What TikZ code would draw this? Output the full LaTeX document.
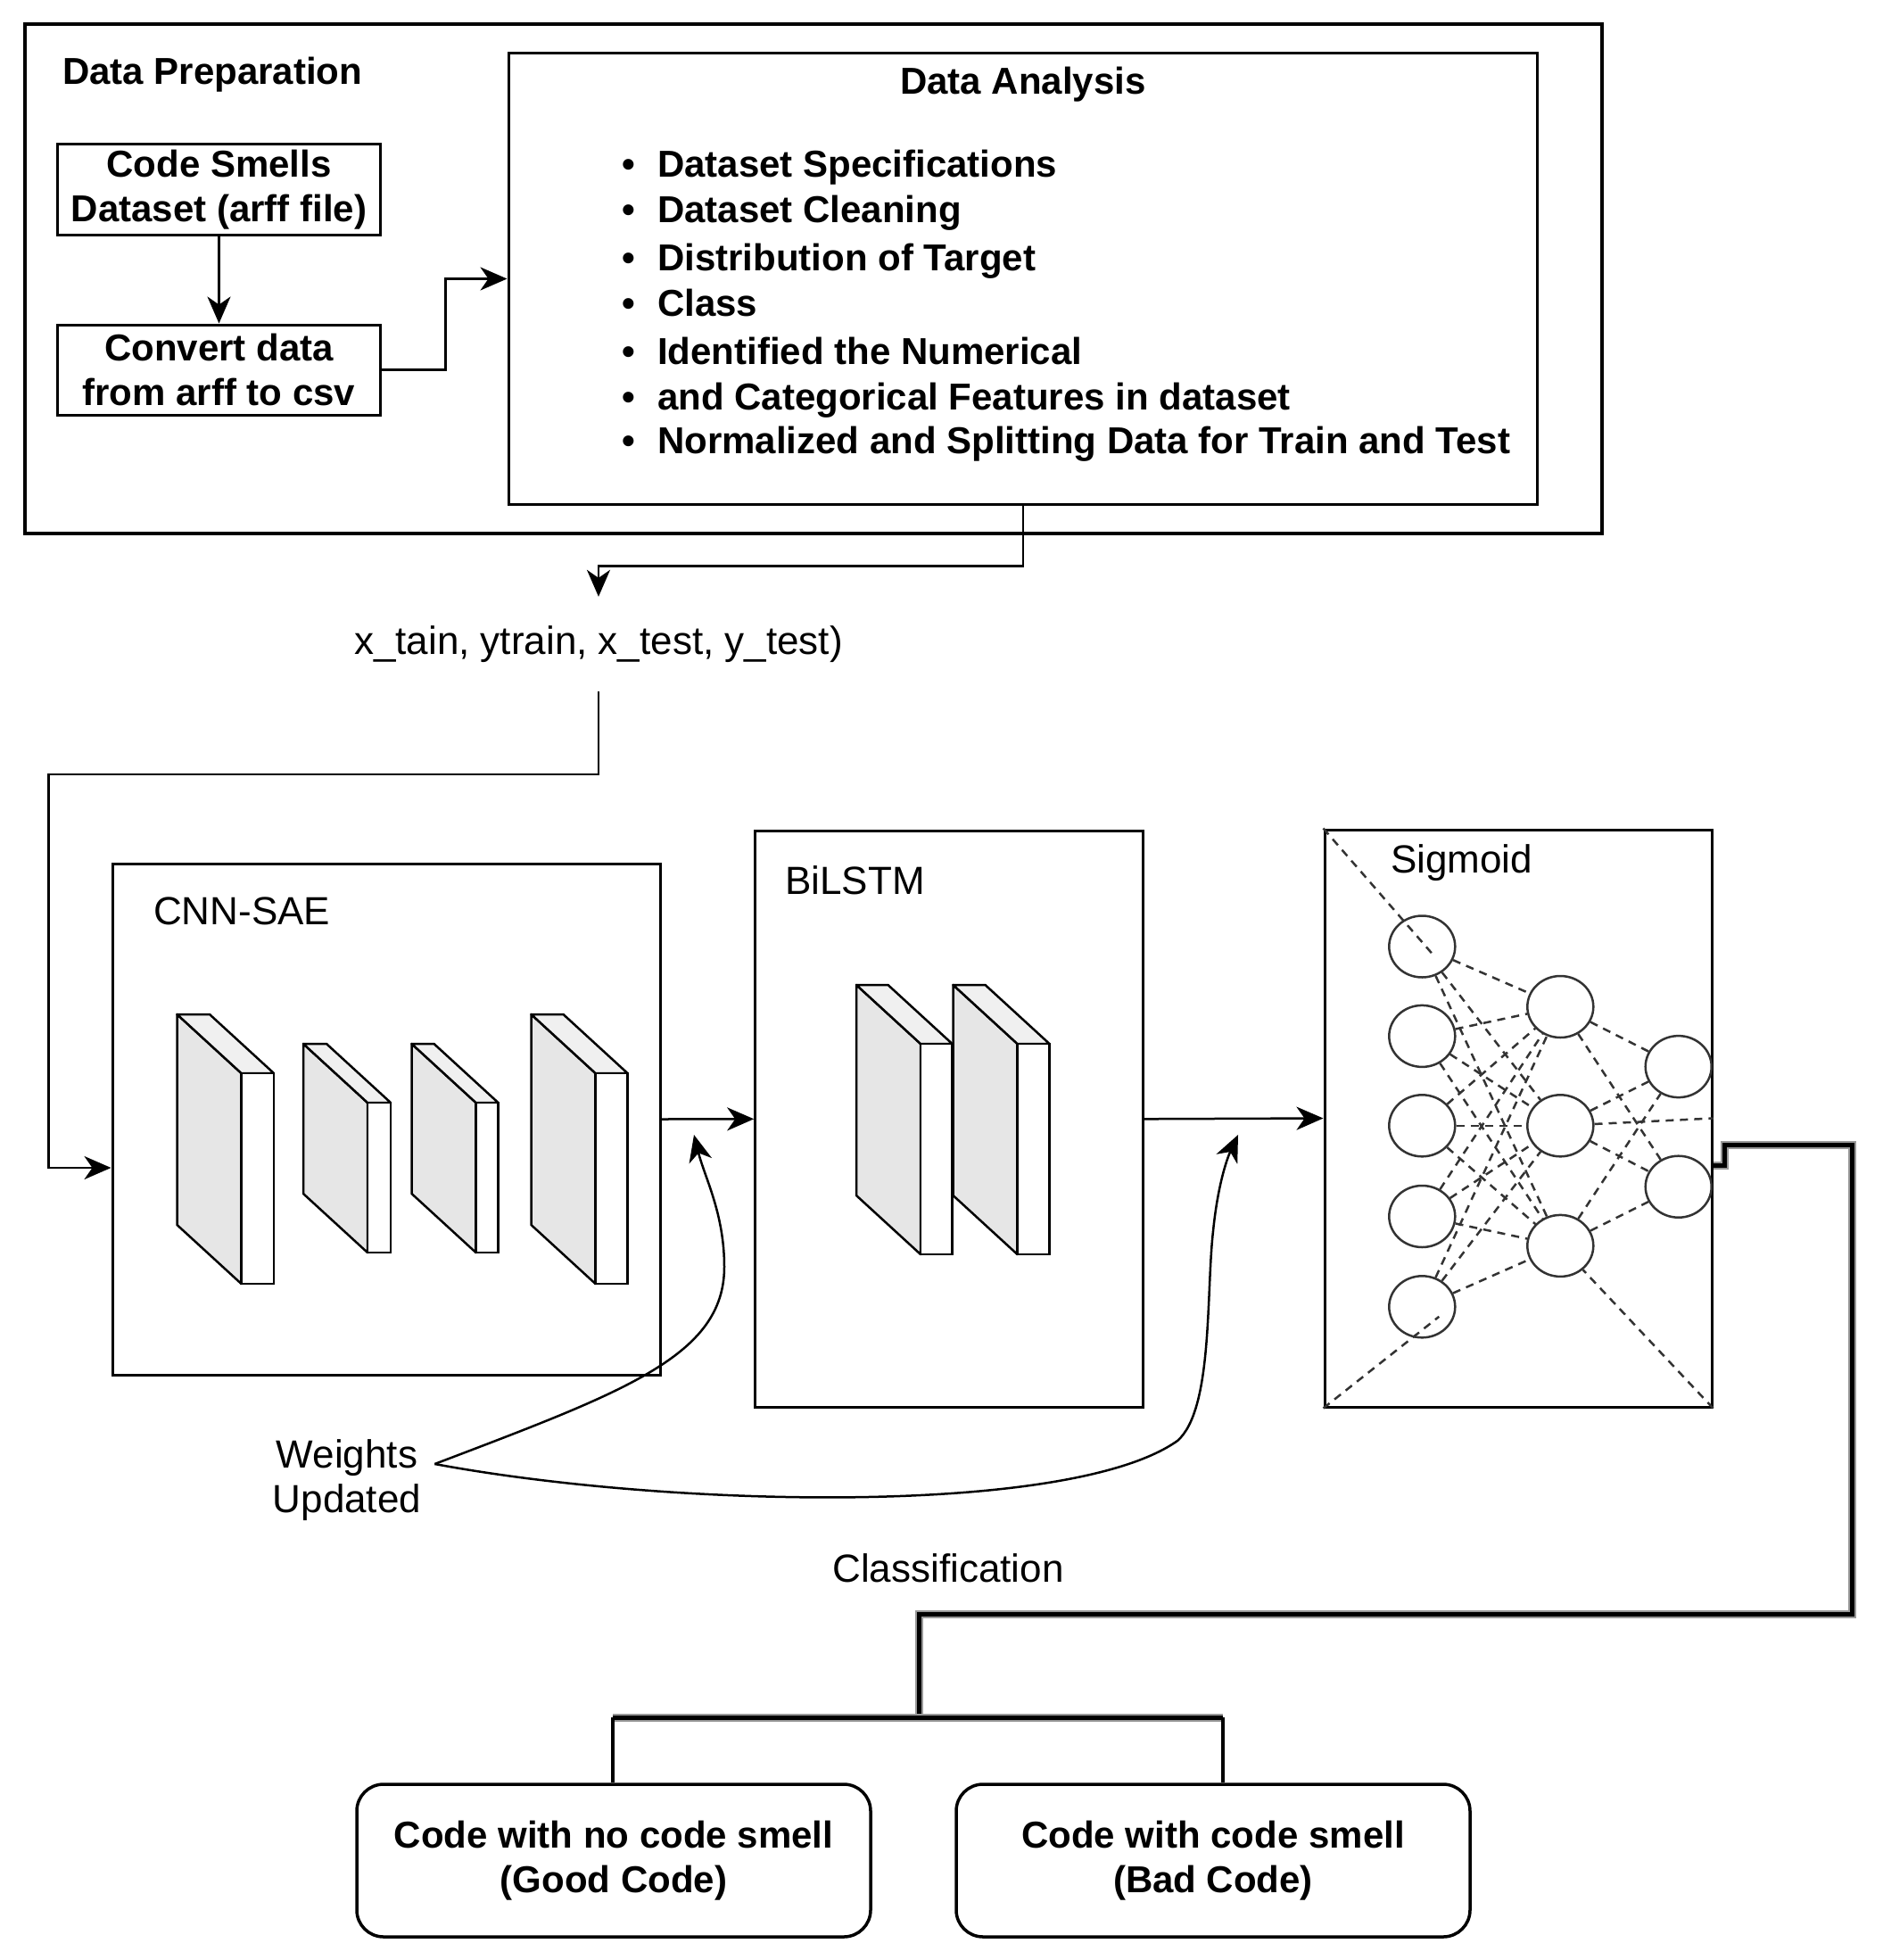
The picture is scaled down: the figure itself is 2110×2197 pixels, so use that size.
\documentclass[tikz,border=0pt]{standalone}
\usepackage{fontspec}
\setmainfont{Liberation Sans}
\usetikzlibrary{arrows.meta,shapes.geometric,calc}
\definecolor{sideg}{HTML}{E6E6E6}
\definecolor{topg}{HTML}{F0F0F0}
\newcommand{\slabdraw}[4]{%
  \filldraw[fill=sideg, line width=2.5pt, line join=round] (#1,#2) -- ++(72,66) -- ++(0,#4) -- ++(-72,-66) -- cycle;
  \filldraw[fill=topg, line width=2.5pt, line join=round] (#1,#2) -- ++(#3,0) -- ++(72,66) -- ++(-#3,0) -- cycle;
  \filldraw[fill=white, line width=2.5pt] (#1+72,#2+66) rectangle ++(#3,#4);
}
\begin{document}
\begin{tikzpicture}[x=1pt,y=-1pt,
  box/.style={draw, line width=3pt, inner sep=0pt},
  arr/.style={-{Stealth[length=30pt,width=26pt,inset=9pt]}, line width=2.5pt},
  bf/.style={font=\fontsize{42}{50}\selectfont\bfseries},
  rg/.style={font=\fontsize{44}{50}\selectfont},
  neuron/.style={draw=black!80, line width=2.5pt, ellipse, minimum width=74pt, minimum height=69pt, inner sep=0pt},
  syn/.style={draw=black!80, line width=2.5pt, dash pattern=on 9pt off 7pt},
  thickg/.style={draw=black!40, double=black, double distance=5pt, line width=2pt, line join=miter},
]
\useasboundingbox (0,0) rectangle (2110,2197);

% ---------- Data preparation ----------
\node[draw, line width=4pt, minimum width=1768pt, minimum height=571pt, inner sep=0pt] (prep) at (912,312.4) {};
\node[bf, anchor=base west, inner sep=0pt] (dptitle) at (70,95) {Data Preparation};
\node[box, bf, align=center, minimum width=362pt, minimum height=102pt] (cs) at (245.5,212.5) {Code Smells\\Dataset (arff file)};
\node[box, bf, align=center, minimum width=362pt, minimum height=101pt] (conv) at (245.5,414.5) {Convert data\\from arff to csv};
\draw[arr] (cs.south) -- (conv.north);

\node[box, minimum width=1153.6pt, minimum height=505pt] (da) at (1146.8,312.5) {};
\node[bf, anchor=base, inner sep=0pt] (datitle) at (1147,106) {Data Analysis};
\foreach \y/\t [count=\n] in {183/Dataset Specifications, 234/Dataset Cleaning, 288/Distribution of Target, 339/Class, 393/Identified the Numerical, 444/and Categorical Features in dataset, 493/Normalized and Splitting Data for Train and Test}{
  \node[bf, anchor=base, inner sep=0pt] (bl\n) at (705,\y+15) {•};
  \node[bf, anchor=base west, inner sep=0pt] (bt\n) at (737,\y+15) {\t};
}
\draw[arr] (conv.east) -- ++(71.5,0) |- (da.west);

% ---------- data label ----------
\node[rg, inner sep=0pt, minimum height=106pt] (lbl) at (671,722) {x\_tain, ytrain, x\_test, y\_test)};
\draw[arr] (da.south) -- ++(0,68) -| (lbl.north);
\coordinate (turnA) at (54.7,868);

% ---------- CNN-SAE ----------
\node[box, minimum width=614pt, minimum height=573pt] (cnn) at (433,1254.5) {};
\node[rg, anchor=base west, inner sep=0pt] (cnnlbl) at (172,1036) {CNN-SAE};
\slabdraw{198.5}{1137}{36.5}{236}
\slabdraw{340}{1170}{26}{168}
\slabdraw{461.5}{1170}{25}{168}
\slabdraw{595.5}{1137}{36}{236}
\draw[arr] (lbl.south) |- (turnA) |- ([yshift=-54.5pt]cnn.west);

% ---------- BiLSTM ----------
\node[box, minimum width=434.3pt, minimum height=645.4pt] (bil) at (1063.85,1254.3) {};
\node[rg, anchor=base west, inner sep=0pt] (billbl) at (880,1002) {BiLSTM};
\slabdraw{960}{1104}{35.5}{236}
\slabdraw{1068.5}{1104}{36}{236}
\draw[arr] (cnn.east) -- (bil.west);

% ---------- Sigmoid ----------
\node[box, minimum width=434pt, minimum height=647pt] (sig) at (1702,1253.5) {};
\node[rg, anchor=base west, inner sep=0pt] (siglbl) at (1559,978) {Sigmoid};
\draw[arr] (bil.east) -- (sig.west);
\foreach \i/\y in {1/1061,2/1161.4,3/1261.8,4/1363.5,5/1464.8}
  \node[neuron] (I\i) at (1594.3,\y) {};
\foreach \j/\y in {1/1128.5,2/1261.8,3/1396.4}
  \node[neuron] (H\j) at (1749.3,\y) {};
\foreach \k/\y in {1/1195.6,2/1330.2}
  \node[neuron] (O\k) at (1881.7,\y) {};
\foreach \i in {1,...,5}
  \foreach \j in {1,2,3}
    \draw[syn] (I\i) -- (H\j);
\foreach \j in {1,2,3}
  \foreach \k in {1,2}
    \draw[syn] (H\j) -- (O\k);
\draw[syn] (sig.north west) -- ([shift={(13pt,-10pt)}]I1.center);
\draw[syn] (sig.south west) -- ([shift={(19pt,-11pt)}]I5.center);
\draw[syn] (sig.south east) -- (H3);
\draw[syn] (H2) -- (sig.east);

% ---------- Weights updated ----------
\node[rg, align=center, inner xsep=15pt, inner ysep=0pt] (wu) at (389,1659) {Weights\\Updated};
\coordinate (t1) at (778,1272);
\coordinate (t2) at (1388,1272);
\draw[arr] ([yshift=18pt]wu.east) .. controls (700,1560) and (812,1520) .. (812,1420) .. controls (812,1360) and (790,1320) .. (t1);
\draw[arr] ([yshift=18pt]wu.east) .. controls (750,1690) and (1200,1700) .. (1320,1615) .. controls (1360,1580) and (1352,1450) .. (1360,1380) .. controls (1365,1330) and (1375,1300) .. (t2);

% ---------- Classification ----------
\node[rg, inner sep=0pt] (cls) at (1063,1758) {Classification};
\node[draw, line width=3.5pt, rounded corners=30pt, minimum width=576pt, minimum height=171pt, bf, align=center] (b1) at (688,2085.5) {Code with no code smell\\(Good Code)};
\node[draw, line width=3.5pt, rounded corners=30pt, minimum width=576pt, minimum height=171pt, bf, align=center] (b2) at (1360,2085.5) {Code with code smell\\(Bad Code)};
\coordinate (jn) at (1030,1925);
\draw[thickg] ([yshift=-52.5pt]sig.east) -- (1933,1306) -- (1933,1283) -- (2076,1283) -- (2076,1809) -- (1030,1809) -- (jn);
\draw[thickg] (687,1925) -- (1371,1925);
\draw[line width=4pt] (687,1925) -- (b1.north -| 687,0);
\draw[line width=4pt] (1371,1925) -- (b2.north -| 1371,0);
\end{tikzpicture}
\end{document}
